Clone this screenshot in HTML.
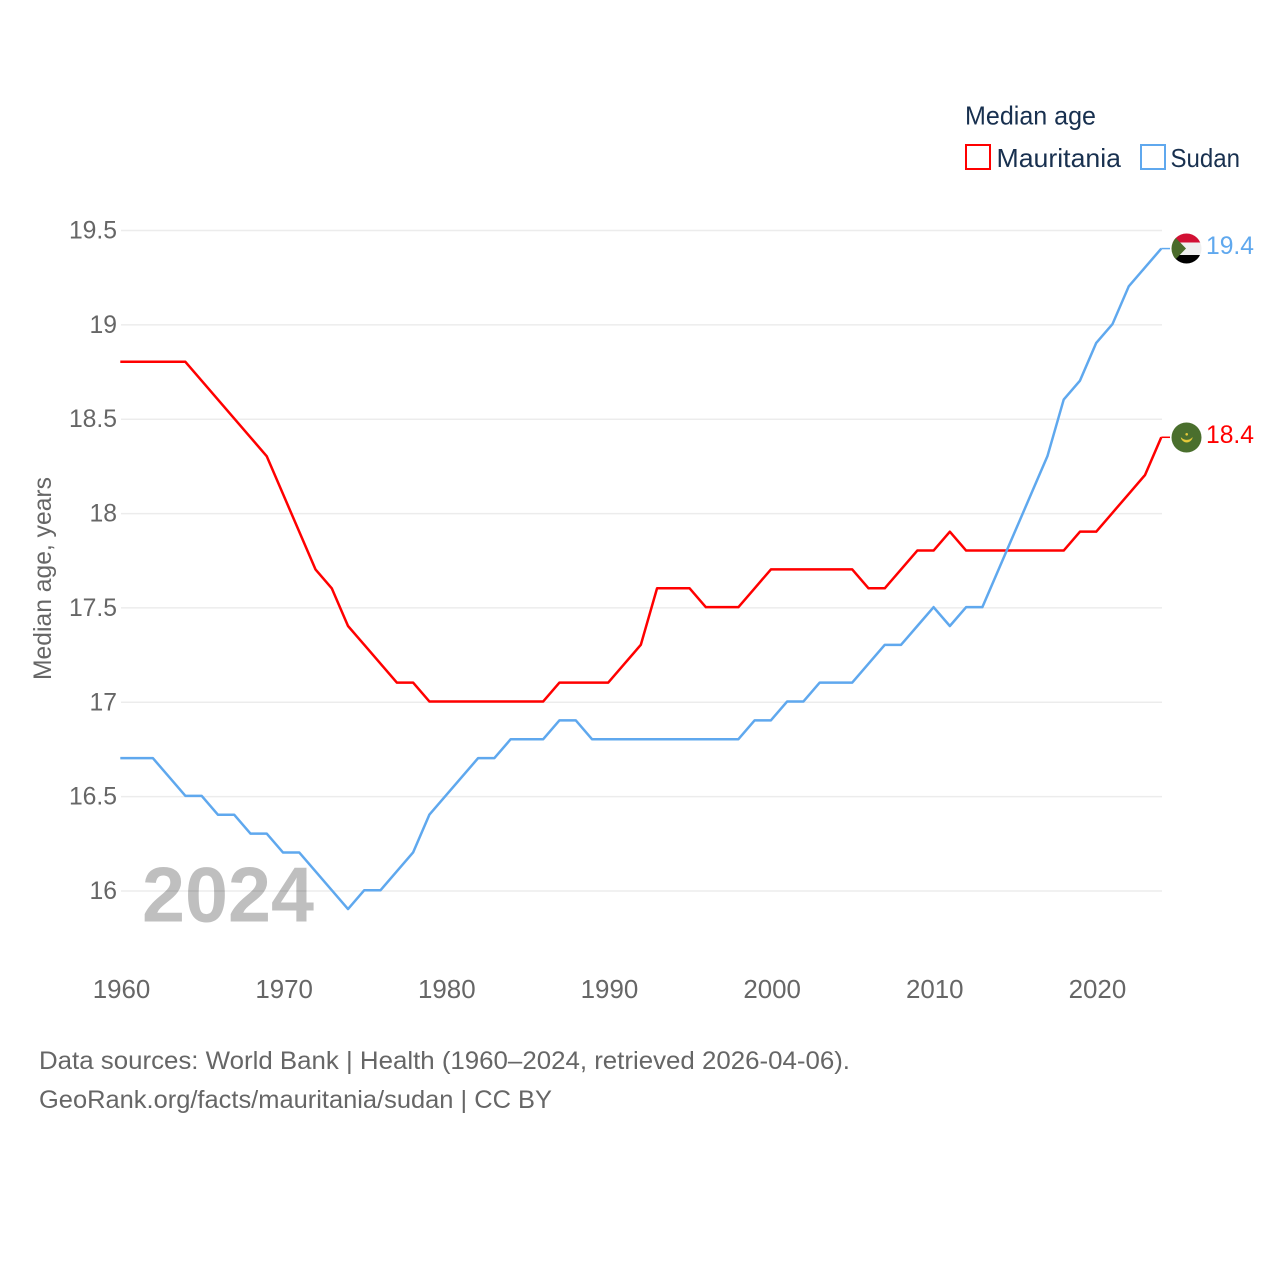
<!DOCTYPE html>
<html>
<head>
<meta charset="utf-8">
<title>Median age: Mauritania and Sudan</title>
<style>
html,body{margin:0;padding:0;background:#fff;}
svg{display:block;font-family:"Liberation Sans",sans-serif;}
</style>
</head>
<body>
<svg id="chart" width="1280" height="1280" viewBox="0 0 1280 1280" xmlns="http://www.w3.org/2000/svg">
  <defs>
    <clipPath id="sudan-clip"><circle cx="1186.5" cy="248.5" r="15"/></clipPath>
  </defs>
  <rect x="0" y="0" width="1280" height="1280" fill="#ffffff"/>
  <text x="142" y="921.5" font-size="78" font-weight="700" fill="#bfbfbf" textLength="172" lengthAdjust="spacingAndGlyphs">2024</text>
  <g id="grid"></g>
  <g id="y-ticks"></g>
  <g id="x-ticks"></g>
  <text transform="translate(51,680) rotate(-90)" font-size="25" fill="#666666" textLength="203" lengthAdjust="spacingAndGlyphs">Median age, years</text>
  <g id="series"></g>

  <g>
    <text x="965" y="124.5" font-size="26" fill="#18304f" textLength="131" lengthAdjust="spacingAndGlyphs">Median age</text>
    <g>
      <rect x="966" y="145" width="24" height="24" fill="none" stroke="#ff0000" stroke-width="2"/>
      <text x="996.5" y="167" font-size="26" fill="#18304f" textLength="124.5" lengthAdjust="spacingAndGlyphs">Mauritania</text>
    </g>
    <g>
      <rect x="1141" y="145" width="24" height="24" fill="none" stroke="#5fa8ee" stroke-width="2"/>
      <text x="1170.5" y="167" font-size="26" fill="#18304f" textLength="69.5" lengthAdjust="spacingAndGlyphs">Sudan</text>
    </g>
  </g>

  <g clip-path="url(#sudan-clip)">
    <rect x="1171" y="233" width="31" height="31" fill="#efefef"/>
    <rect x="1171" y="233" width="31" height="9.5" fill="#d21034"/>
    <rect x="1171" y="255" width="31" height="10" fill="#000000"/>
    <polygon points="1171,233 1186,248.5 1171,264" fill="#4a6b2a"/>
  </g>
  <g>
    <circle cx="1186.5" cy="437.5" r="15" fill="#4a6f2d"/>
    <path d="M1181 437.5 A5.8 5.8 0 0 0 1192.4 437.5 A7.5 7.5 0 0 1 1181 437.5 Z" fill="#e6c93a" stroke="#e6c93a" stroke-width="0.5"/>
    <circle cx="1186.7" cy="434.3" r="1.3" fill="#e6c93a"/>
  </g>
  <text x="1206" y="254" font-size="25" fill="#5fa8ee" textLength="48" lengthAdjust="spacingAndGlyphs">19.4</text>
  <text x="1206" y="443" font-size="25" fill="#ff0000" textLength="48" lengthAdjust="spacingAndGlyphs">18.4</text>

  <text x="39" y="1069" font-size="25" fill="#666666" textLength="811" lengthAdjust="spacingAndGlyphs">Data sources: World Bank | Health (1960–2024, retrieved 2026-04-06).</text>
  <text x="39" y="1108" font-size="25" fill="#666666" textLength="513" lengthAdjust="spacingAndGlyphs">GeoRank.org/facts/mauritania/sudan | CC BY</text>
</svg>
<script>
const startYear = 1960;
const yTickValues = [16, 16.5, 17, 17.5, 18, 18.5, 19, 19.5];
const xTickYears = [1960, 1970, 1980, 1990, 2000, 2010, 2020];
const mauritaniaValues = [18.8,18.8,18.8,18.8,18.8,18.7,18.6,18.5,18.4,18.3,18.1,17.9,17.7,17.6,17.4,17.3,17.2,17.1,17.1,17.0,17.0,17.0,17.0,17.0,17.0,17.0,17.0,17.1,17.1,17.1,17.1,17.2,17.3,17.6,17.6,17.6,17.5,17.5,17.5,17.6,17.7,17.7,17.7,17.7,17.7,17.7,17.6,17.6,17.7,17.8,17.8,17.9,17.8,17.8,17.8,17.8,17.8,17.8,17.8,17.9,17.9,18.0,18.1,18.2,18.4];
const sudanValues = [16.7,16.7,16.7,16.6,16.5,16.5,16.4,16.4,16.3,16.3,16.2,16.2,16.1,16.0,15.9,16.0,16.0,16.1,16.2,16.4,16.5,16.6,16.7,16.7,16.8,16.8,16.8,16.9,16.9,16.8,16.8,16.8,16.8,16.8,16.8,16.8,16.8,16.8,16.8,16.9,16.9,17.0,17.0,17.1,17.1,17.1,17.2,17.3,17.3,17.4,17.5,17.4,17.5,17.5,17.7,17.9,18.1,18.3,18.6,18.7,18.9,19.0,19.2,19.3,19.4];

const NS = 'http://www.w3.org/2000/svg';
const xOf = year => 121 + (year - 1960) * (1162 - 121) / 64;
const yOf = v => 891 - (v - 16) * (891 - 230.5) / 3.5;
const gridGroup = document.getElementById('grid');
const yTickGroup = document.getElementById('y-ticks');
const xTickGroup = document.getElementById('x-ticks');
const seriesGroup = document.getElementById('series');

yTickValues.forEach(v => {
  const line = document.createElementNS(NS, 'line');
  
  
  line.setAttribute('x1', 121);
  line.setAttribute('x2', 1162);
  line.setAttribute('y1', yOf(v));
  line.setAttribute('y2', yOf(v));
  line.setAttribute('stroke', 'rgba(0,0,0,0.075)');
  line.setAttribute('stroke-width', '1.5');
  gridGroup.appendChild(line);

  const label = document.createElementNS(NS, 'text');
  
  
  label.setAttribute('x', 117);
  label.setAttribute('y', yOf(v) + 8);
  label.setAttribute('text-anchor', 'end');
  label.setAttribute('font-size', '24.7');
  label.setAttribute('fill', '#666666');
  label.textContent = String(v);
  yTickGroup.appendChild(label);
});

xTickYears.forEach(year => {
  const label = document.createElementNS(NS, 'text');
  
  
  label.setAttribute('x', xOf(year) + 0.5);
  label.setAttribute('y', 998);
  label.setAttribute('text-anchor', 'middle');
  label.setAttribute('font-size', '25.9');
  label.setAttribute('fill', '#666666');
  label.textContent = String(year);
  xTickGroup.appendChild(label);
});

function drawSeries(values, color, name) {
  const points = values.map((v, i) => (xOf(startYear + i) - 0.7).toFixed(2) + ',' + (yOf(v) - 0.8).toFixed(2));
  const lastY = yOf(values[values.length - 1]) - 0.8;
  const line = document.createElementNS(NS, 'polyline');
  
  
  line.setAttribute('points', points.join(' '));
  line.setAttribute('fill', 'none');
  line.setAttribute('stroke', color);
  line.setAttribute('stroke-width', '2.5');
  line.setAttribute('stroke-linejoin', 'round');
  seriesGroup.appendChild(line);

  const connector = document.createElementNS(NS, 'line');
  
  
  connector.setAttribute('x1', xOf(startYear + values.length - 1) - 0.7);
  connector.setAttribute('x2', 1170);
  connector.setAttribute('y1', lastY);
  connector.setAttribute('y2', lastY);
  connector.setAttribute('stroke', color);
  connector.setAttribute('stroke-width', '1.5');
  seriesGroup.appendChild(connector);
}

drawSeries(mauritaniaValues, '#ff0000', 'mauritania');
drawSeries(sudanValues, '#5fa8ee', 'sudan');
</script>
</body>
</html>
